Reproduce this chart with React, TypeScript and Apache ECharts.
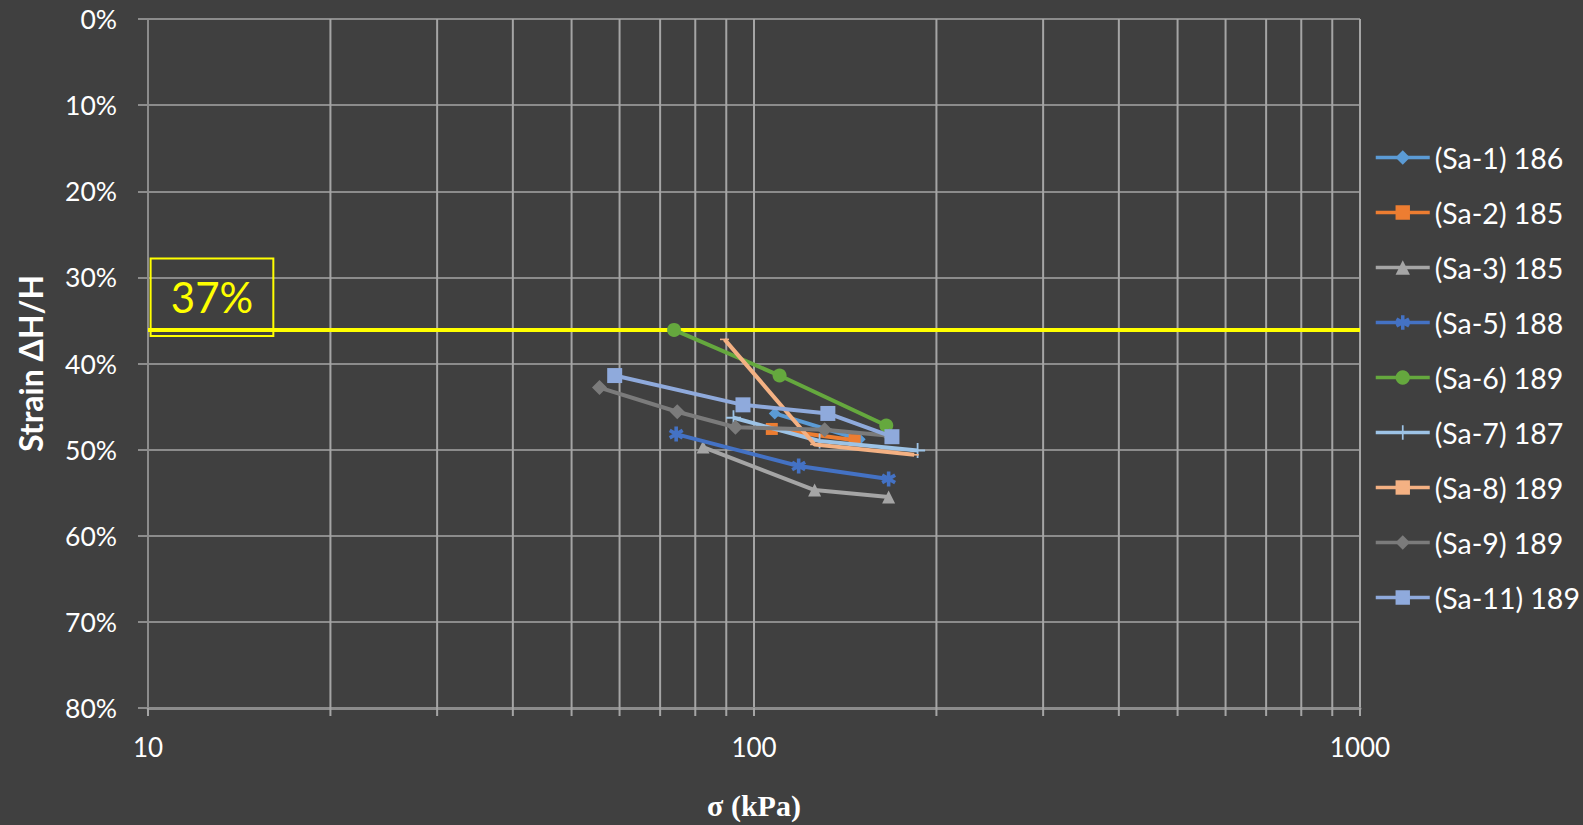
import React, { useEffect, useRef } from "react";
import * as echarts from "echarts";

// ---- data ----
const seriesNames = [
  "(Sa-1) 186",
  "(Sa-2) 185",
  "(Sa-3) 185",
  "(Sa-5) 188",
  "(Sa-6) 189",
  "(Sa-7) 187",
  "(Sa-8) 189",
  "(Sa-9) 189",
  "(Sa-11) 189",
];
// [sigma kPa, strain %]
const sa1 = [[108.2, 45.8], [149.4, 48.8]];
const sa2 = [[107.0, 47.6], [146.6, 48.9]];
const sa3 = [[82.4, 49.7], [125.9, 54.7], [166.8, 55.5]];
const sa5 = [[74.4, 48.2], [118.5, 51.9], [166.8, 53.4]];
const sa6 = [[73.8, 36.1], [110.2, 41.4], [165.3, 47.2]];
const sa7 = [[92.5, 46.3], [128.3, 49.0], [186.2, 50.1]];
const sa8 = [[89.4, 37.2], [125.9, 49.4], [183.8, 50.6]];
const sa9 = [[55.6, 42.8], [74.7, 45.6], [93.2, 47.4], [130.8, 47.7], [167.4, 48.4]];
const sa11 = [[58.9, 41.4], [95.9, 44.8], [132.4, 45.8], [168.9, 48.5]];
const seriesData = [sa1, sa2, sa3, sa5, sa6, sa7, sa8, sa9, sa11];

const xMin = 10;
const xMax = 1000;
const yMin = 0;
const yMax = 80;
const yInterval = 10;
const minorXTicks = [20, 30, 40, 50, 60, 70, 80, 90, 200, 300, 400, 500, 600, 700, 800, 900];

const limitStrain = 36.1;
const limitLabel = "37%";
const labelBoxX = [10.1, 16.1];
const labelBoxY = [27.8, 36.8];

// ---- styles ----
const colors = ["#5B9BD5", "#ED7D31", "#A5A5A5", "#4472C4", "#65A83E", "#9DC3E6", "#F4B183", "#7B7B7B", "#8FAADC"];
const asterisk =
  "path://M3.8 0L6.2 0L6.2 10L3.8 10Z M1.27 1.46L9.93 6.46L8.73 8.54L0.07 3.54Z M0.07 6.46L8.73 1.46L9.93 3.54L1.27 8.54Z";
const plus = "path://M0 4.4L10 4.4L10 5.6L0 5.6Z M4.4 0L5.6 0L5.6 10L4.4 10Z";
const dash = "path://M0 0L10 0L10 4L0 4Z";
const symbols = ["diamond", "rect", "triangle", asterisk, "circle", plus, dash, "diamond", "rect"];
const symbolSizes: any[] = [12, 12, 13, 15, 14, 15, [9, 4], 15, 15];

const FONT = "Lato";

export default function App() {
  const ref = useRef<HTMLDivElement>(null);
  useEffect(() => {
    const chart = echarts.init(ref.current as HTMLDivElement, null, { renderer: "svg" });
    const lineSeries = seriesNames.map((name, i) => ({
      name,
      type: "line",
      data: seriesData[i],
      symbol: symbols[i],
      symbolSize: symbolSizes[i],
      symbolKeepAspect: true,
      showAllSymbol: true,
      lineStyle: { color: colors[i], width: 4 },
      itemStyle: { color: colors[i] },
      z: 3 + i,
    }));
    const option: any = {
      animation: false,
      backgroundColor: "#404040",
      grid: { left: 148, right: 223, top: 19, bottom: 110, containLabel: false },
      legend: {
        data: seriesNames,
        orient: "vertical",
        left: 1369,
        top: 138,
        itemWidth: 54,
        itemHeight: 18,
        itemGap: 26,
        lineStyle: { width: 3.5 },
        textStyle: { color: "#ffffff", fontSize: 28.5, fontFamily: FONT },
      },
      xAxis: {
        type: "log",
        logBase: 10,
        min: xMin,
        max: xMax,
        name: "σ (kPa)",
        nameLocation: "middle",
        nameGap: 82,
        nameTextStyle: { color: "#ffffff", fontSize: 30, fontWeight: "bold", fontFamily: "Liberation Serif" },
        axisLine: { onZero: false, lineStyle: { color: "#8c8c8c", width: 3 } },
        axisTick: { show: true, length: 8, lineStyle: { color: "#a5a5a5", width: 2 } },
        axisLabel: {
          color: "#ffffff",
          fontSize: 26,
          fontFamily: FONT,
          margin: 26,
          formatter: (v: number) => String(Math.round(v)),
        },
        splitLine: { show: true, lineStyle: { color: "#a5a5a5", width: 2 } },
      },
      yAxis: {
        type: "value",
        inverse: true,
        min: yMin,
        max: yMax,
        interval: yInterval,
        name: "Strain ΔH/H",
        nameLocation: "middle",
        nameGap: 102,
        nameTextStyle: { color: "#ffffff", fontSize: 32, fontWeight: "bold", fontFamily: FONT },
        axisLine: { show: true, lineStyle: { color: "#8c8c8c", width: 2 } },
        axisTick: { show: true, length: 10, lineStyle: { color: "#8c8c8c", width: 2 } },
        axisLabel: { color: "#ffffff", fontSize: 26.5, fontFamily: FONT, margin: 31, formatter: "{value}%" },
        splitLine: { show: true, lineStyle: { color: "#8c8c8c", width: 2 } },
      },
      series: [
        {
          name: "minorGrid",
          type: "custom",
          silent: true,
          z: 1,
          data: minorXTicks.map((v) => [v, yMin]),
          encode: { x: 0, y: 1 },
          renderItem: (params: any, api: any) => {
            const v = api.value(0);
            const p0 = api.coord([v, yMin]);
            const p1 = api.coord([v, yMax]);
            return {
              type: "line",
              shape: { x1: p0[0], y1: p0[1], x2: p1[0], y2: p1[1] + 8 },
              style: { stroke: "#a5a5a5", lineWidth: 2 },
            };
          },
        },
        {
          name: "limit",
          type: "line",
          data: [],
          z: 2,
          silent: true,
          markLine: {
            silent: true,
            symbol: "none",
            label: { show: false },
            lineStyle: { color: "#FFFF00", width: 4, type: "solid" },
            data: [{ yAxis: limitStrain }],
          },
          markArea: {
            silent: true,
            itemStyle: { color: "rgba(0,0,0,0)", borderColor: "#FFFF00", borderWidth: 2 },
            label: {
              show: true,
              position: "inside",
              formatter: limitLabel,
              color: "#FFFF00",
              fontSize: 42,
              fontFamily: FONT,
            },
            data: [[{ coord: [labelBoxX[0], labelBoxY[0]] }, { coord: [labelBoxX[1], labelBoxY[1]] }]],
          },
        },
        ...lineSeries,
      ],
    };
    chart.setOption(option);
    return () => chart.dispose();
  }, []);
  return <div ref={ref} style={{ position: "fixed", left: 0, top: 0, width: 1583, height: 825 }} />;
}
